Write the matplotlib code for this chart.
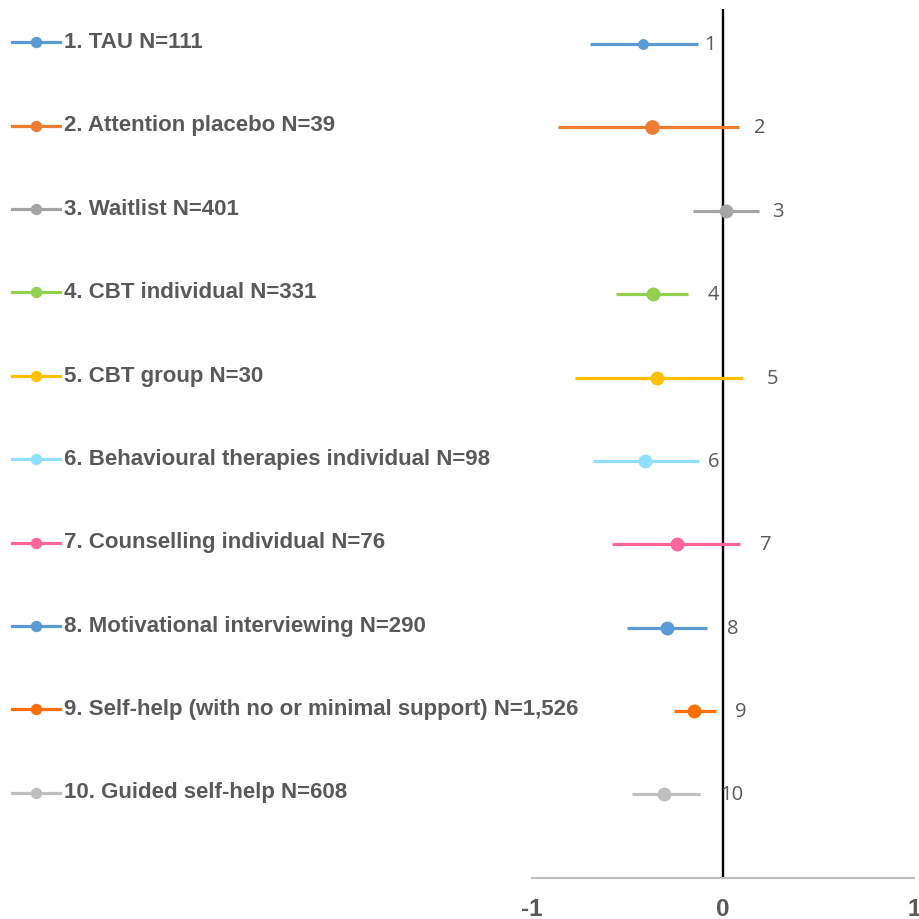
import matplotlib
matplotlib.use("Agg")
import matplotlib.pyplot as plt
import matplotlib.transforms as mtransforms

# Interventions, effect estimates and confidence intervals
labels = [
    "1. TAU N=111",
    "2. Attention placebo N=39",
    "3. Waitlist N=401",
    "4. CBT individual N=331",
    "5. CBT group N=30",
    "6. Behavioural therapies individual N=98",
    "7. Counselling individual N=76",
    "8. Motivational interviewing N=290",
    "9. Self-help (with no or minimal support) N=1,526",
    "10. Guided self-help N=608",
]
point = [-0.417, -0.370, 0.015, -0.365, -0.344, -0.407, -0.240, -0.292, -0.151, -0.308]
ci_low = [-0.695, -0.862, -0.156, -0.559, -0.773, -0.680, -0.581, -0.501, -0.255, -0.476]
ci_high = [-0.131, 0.085, 0.189, -0.182, 0.104, -0.126, 0.090, -0.083, -0.037, -0.119]
# x position of each row's number label
label_x = [-0.067, 0.195, 0.289, -0.051, 0.257, -0.051, 0.221, 0.053, 0.095, 0.048]
row_ids = ["1", "2", "3", "4", "5", "6", "7", "8", "9", "10"]
xticks = [-1, 0, 1]

colors = ["#5B9BD5", "#ED7D31", "#A5A5A5", "#92D050", "#FFC000",
          "#8FDFFF", "#FF6699", "#5B9BD5", "#FF7000", "#BFBFBF"]
marker_sizes = [6.8, 9.5, 9, 9, 9, 9, 9, 9, 9, 9]
text_grey = "#595959"

fig = plt.figure(figsize=(9.19, 9.20), dpi=100)
ax = fig.add_axes([0.5786, 0.0449, 0.4160, 0.9442])

n = len(labels)
ys = [n + 1 - (i + 1) for i in range(n)]

ax.axvline(0, color="black", lw=1.7, zorder=1)

for i in range(n):
    y = ys[i]
    ax.plot([ci_low[i], ci_high[i]], [y, y], color=colors[i], lw=2.3,
            solid_capstyle="butt", zorder=2)
    ax.plot(point[i], y, "o", color=colors[i], ms=marker_sizes[i], zorder=3)
    ax.text(label_x[i], y, row_ids[i], ha="center", va="center",
            fontsize=14.5, color=text_grey, family="Open Sans", zorder=4)

# Legend-style key on the left, one entry per row
trans = mtransforms.blended_transform_factory(fig.transFigure, ax.transData)
for i in range(n):
    y = ys[i]
    ax.plot([12 / 919, 60 / 919], [y + 0.02, y + 0.02], color=colors[i], lw=2.3,
            transform=trans, clip_on=False)
    ax.plot([36 / 919], [y + 0.02], "o", color=colors[i], ms=7.2,
            transform=trans, clip_on=False)
    ax.text(64 / 919, y + 0.03, labels[i], transform=trans, ha="left", va="center",
            fontsize=16, fontweight="bold", color=text_grey,
            family="Liberation Sans")

ax.set_xlim(-1, 1)
ax.set_ylim(0, 10.42)
ax.set_xticks(xticks)
ax.set_xticklabels([str(t) for t in xticks], fontsize=17.5, fontweight="bold",
                   color=text_grey, family="Liberation Sans")
ax.tick_params(axis="x", length=0, pad=14)
ax.set_yticks([])
for side in ["top", "right", "left"]:
    ax.spines[side].set_visible(False)
ax.spines["bottom"].set_color("#BFBFBF")
ax.spines["bottom"].set_linewidth(1.5)
ax.patch.set_alpha(0)

fig.savefig("out.png", dpi=100)
